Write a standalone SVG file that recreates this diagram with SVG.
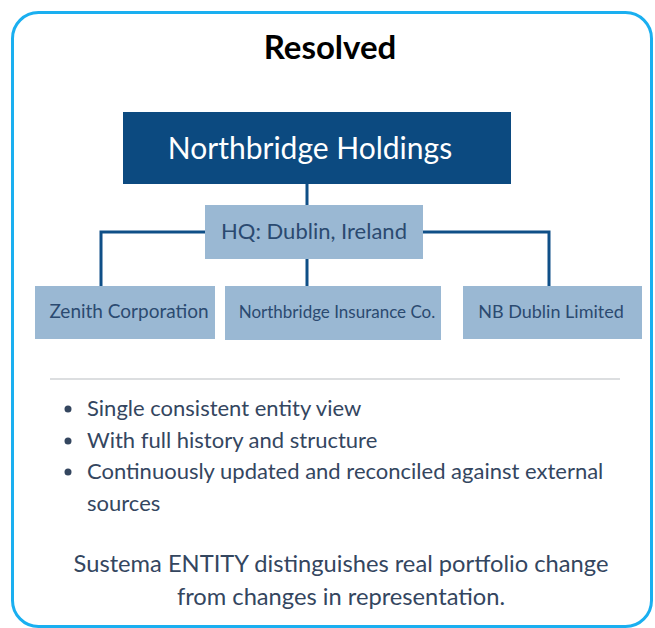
<svg xmlns="http://www.w3.org/2000/svg" width="655" height="628" viewBox="0 0 655 628">
<style>
.t{font-family:Lato,"Open Sans","Liberation Sans",sans-serif}
.node{fill:#9ab8d3}
.nt{fill:#2b4a70;text-anchor:middle}
.conn{fill:none;stroke:#0f4f87;stroke-width:3}
.body{fill:#34465f;font-size:22px}
</style>
<rect width="655" height="628" fill="#ffffff"/>
<rect x="12.5" y="12.5" width="639" height="614" rx="26" fill="#ffffff" stroke="#1aaff0" stroke-width="3"/>
<text class="t" x="330" y="59" font-size="33" font-weight="bold" text-anchor="middle" fill="#000">Resolved</text>
<g id="connectors">
<path class="conn" d="M307 184V205"/>
<path class="conn" d="M205 232H101V286"/>
<path class="conn" d="M307 259V286"/>
<path class="conn" d="M423 232H549V286"/>
</g>
<g id="holdings">
<rect x="123" y="112" width="388" height="72" fill="#0c4a80"/>
<text class="t" x="310" y="159" font-size="30" fill="#fff" text-anchor="middle">Northbridge Holdings</text>
</g>
<g id="hq">
<rect class="node" x="205" y="205" width="218" height="54"/>
<text class="t nt" x="314" y="239" font-size="22">HQ: Dublin, Ireland</text>
</g>
<g id="zenith">
<rect class="node" x="35" y="286" width="180" height="53"/>
<text class="t nt" x="129" y="318" font-size="19">Zenith Corporation</text>
</g>
<g id="insurance">
<rect class="node" x="225" y="286" width="216" height="54"/>
<text class="t nt" x="337" y="318" font-size="17">Northbridge Insurance Co.</text>
</g>
<g id="nbdublin">
<rect class="node" x="463" y="286" width="179" height="53"/>
<text class="t nt" x="551" y="318" font-size="18">NB Dublin Limited</text>
</g>
<line x1="50" y1="379" x2="620" y2="379" stroke="#dcdee0" stroke-width="2"/>
<g class="t body">
<circle cx="68" cy="409" r="3.5" fill="#34465f"/>
<text x="87" y="416">Single consistent entity view</text>
<circle cx="68" cy="441" r="3.5" fill="#34465f"/>
<text x="87" y="448">With full history and structure</text>
<circle cx="68" cy="472" r="3.5" fill="#34465f"/>
<text x="87" y="479">Continuously updated and reconciled against external</text>
<text x="87" y="511">sources</text>
</g>
<g class="t" fill="#34465f" font-size="23.7" text-anchor="middle">
<text x="341" y="572">Sustema ENTITY distinguishes real portfolio change</text>
<text x="341" y="605">from changes in representation.</text>
</g>
</svg>
